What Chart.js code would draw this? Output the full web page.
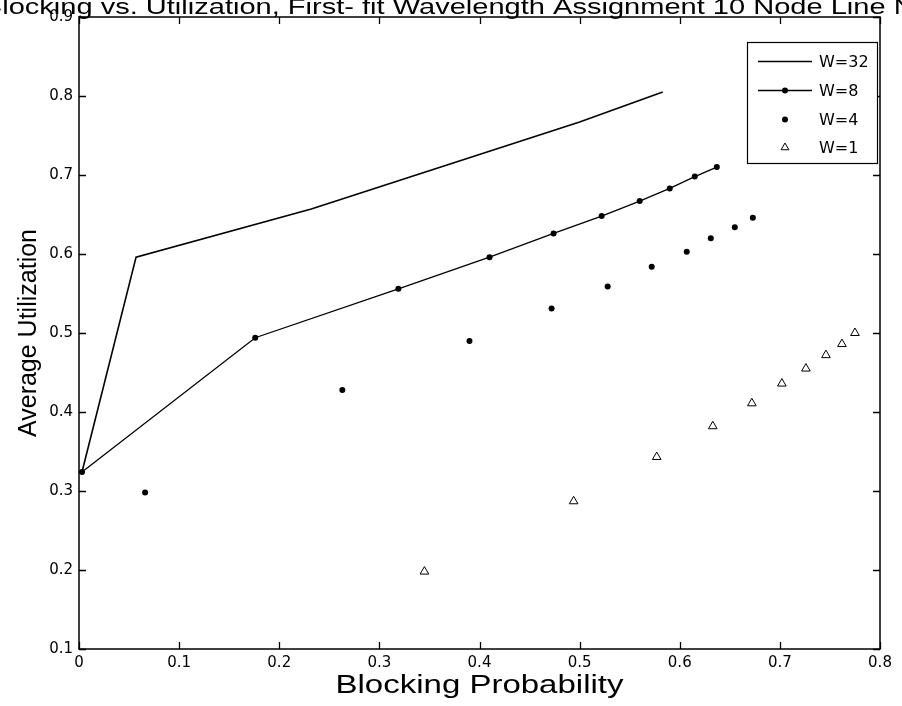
<!DOCTYPE html>
<html><head><meta charset="utf-8">
<script src="https://cdn.jsdelivr.net/npm/chart.js@4/dist/chart.umd.min.js"></script>
<style>html,body{margin:0;padding:0;background:#fff;overflow:hidden}</style>
</head><body>
<canvas id="c" width="902" height="706" style="width:902px;height:706px;display:block"></canvas>
<script>
// ---- data ----
const chartTitle = "Blocking vs. Utilization, First- fit Wavelength Assignment 10 Node Line Network";
const xAxisTitle = "Blocking Probability";
const yAxisTitle = "Average Utilization";
const xTickValues = [0, 0.1, 0.2, 0.3, 0.4, 0.5, 0.6, 0.7, 0.8];
const yTickValues = [0.1, 0.2, 0.3, 0.4, 0.5, 0.6, 0.7, 0.8, 0.9];
const seriesNames = ["W=32", "W=8", "W=4", "W=1"];

const w32Block = [0.003, 0.057, 0.232, 0.500, 0.583];
const w32Util  = [0.324, 0.596, 0.657, 0.767, 0.805];

const w8Block = [0.003, 0.176, 0.319, 0.410, 0.474, 0.522, 0.560, 0.590, 0.615, 0.637];
const w8Util  = [0.324, 0.494, 0.556, 0.596, 0.626, 0.648, 0.667, 0.683, 0.698, 0.710];

const w4Block = [0.066, 0.263, 0.390, 0.472, 0.528, 0.572, 0.607, 0.631, 0.655, 0.673];
const w4Util  = [0.298, 0.428, 0.490, 0.531, 0.559, 0.584, 0.603, 0.620, 0.634, 0.646];

const w1Block = [0.345, 0.494, 0.577, 0.633, 0.672, 0.702, 0.726, 0.746, 0.762, 0.775];
const w1Util  = [0.198, 0.287, 0.343, 0.382, 0.411, 0.436, 0.455, 0.472, 0.486, 0.500];

const pts = (xs, ys) => xs.map((x, i) => ({x: x, y: ys[i]}));
const fmt = v => String(+(+v).toFixed(1));

const datasets = [
  {label: seriesNames[0], data: pts(w32Block, w32Util), showLine: true, borderColor: '#000', borderWidth: 1.6,
   pointRadius: 0, pointHoverRadius: 0, fill: false},
  {label: seriesNames[1], data: pts(w8Block, w8Util), showLine: true, borderColor: '#000', borderWidth: 1.3,
   pointRadius: 3, pointStyle: 'circle', pointBackgroundColor: '#000', pointBorderColor: '#000', pointBorderWidth: 0, fill: false},
  {label: seriesNames[2], data: pts(w4Block, w4Util), showLine: false, borderColor: '#000',
   pointRadius: 3, pointStyle: 'circle', pointBackgroundColor: '#000', pointBorderColor: '#000', pointBorderWidth: 0},
  {label: seriesNames[3], data: pts(w1Block, w1Util), showLine: false, borderColor: '#000',
   pointRadius: 5, pointStyle: 'triangle', pointBackgroundColor: 'rgba(0,0,0,0)', pointBorderColor: '#000', pointBorderWidth: 1}
];

const TICK_FONT = {family: 'DejaVu Sans', size: 15};
const AXIS_FONT = {family: 'Liberation Sans', size: 25};
const H_STRETCH = 1.32; // the reference figure is stretched horizontally

const decorPlugin = {
  id: 'decor',
  afterDraw(chart) {
    const ctx = chart.ctx;
    const a = chart.chartArea;
    const xs = chart.scales.x, ys = chart.scales.y;
    ctx.save();
    // axes box
    ctx.strokeStyle = '#000';
    ctx.lineWidth = 1.5;
    ctx.strokeRect(a.left, a.top, a.right - a.left, a.bottom - a.top);
    // inward tick marks on all four sides
    const TL = 7;
    ctx.lineWidth = 1.3;
    ctx.beginPath();
    xs.ticks.forEach(t => {
      const px = Math.round(xs.getPixelForValue(t.value)) + 0.5;
      ctx.moveTo(px, a.bottom); ctx.lineTo(px, a.bottom - TL);
      ctx.moveTo(px, a.top); ctx.lineTo(px, a.top + TL);
    });
    ys.ticks.forEach(t => {
      const py = Math.round(ys.getPixelForValue(t.value)) + 0.5;
      ctx.moveTo(a.left, py); ctx.lineTo(a.left + TL, py);
      ctx.moveTo(a.right, py); ctx.lineTo(a.right - TL, py);
    });
    ctx.stroke();

    const cx = (a.left + a.right) / 2;
    ctx.fillStyle = '#000';

    // title: wider than the canvas, clipped at both edges like the reference
    ctx.font = '22px "Liberation Sans"';
    ctx.textBaseline = 'alphabetic';
    ctx.textAlign = 'center';
    ctx.save();
    ctx.translate(cx + 12, 14);
    ctx.scale(1.32, 1);
    ctx.fillText(chartTitle, 0, 0);
    ctx.restore();

    // x axis title (horizontally stretched like the reference)
    ctx.font = '25px "Liberation Sans"';
    ctx.save();
    ctx.translate(cx, 693);
    ctx.scale(H_STRETCH, 1);
    ctx.fillText(xAxisTitle, 0, 0);
    ctx.restore();

    // legend box
    const lx = 747, ly = 42, lw = 130, lh = 121;
    ctx.fillStyle = '#fff';
    ctx.fillRect(lx, ly, lw, lh);
    ctx.lineWidth = 1.2;
    ctx.strokeStyle = '#000';
    ctx.strokeRect(lx + 0.5, ly + 0.5, lw, lh);
    const rows = [61, 90, 119, 147];
    const x0 = 758, x1 = 812, mx = 785;
    ctx.font = '16px "DejaVu Sans"';
    ctx.textAlign = 'left';
    ctx.textBaseline = 'middle';
    chart.data.datasets.forEach((ds, i) => {
      const y = rows[i] + 0.5;
      ctx.strokeStyle = '#000';
      if (ds.showLine) {
        ctx.lineWidth = ds.borderWidth;
        ctx.beginPath(); ctx.moveTo(x0, y); ctx.lineTo(x1, y); ctx.stroke();
      }
      if (ds.pointRadius > 0) {
        if (ds.pointStyle === 'triangle') {
          ctx.fillStyle = 'rgba(0,0,0,0)';
          ctx.lineWidth = 1;
          Chart.helpers.drawPoint(ctx, {pointStyle: 'triangle', radius: 4.5, borderWidth: 1, rotation: 0}, mx, y);
        } else {
          ctx.fillStyle = '#000';
          ctx.beginPath(); ctx.arc(mx, y, 3, 0, Math.PI * 2); ctx.fill();
        }
      }
      ctx.fillStyle = '#000';
      ctx.fillText(ds.label, 819, y + 1);
    });
    ctx.restore();
  }
};

new Chart(document.getElementById('c'), {
  type: 'scatter',
  data: {datasets: datasets},
  options: {
    responsive: false,
    animation: false,
    devicePixelRatio: 1,
    layout: {padding: {top: 17, right: 22, left: 0, bottom: 0}},
    plugins: {legend: {display: false}, title: {display: false}, tooltip: {enabled: false}},
    scales: {
      x: {
        type: 'linear', min: 0, max: 0.8,
        afterBuildTicks: s => { s.ticks = xTickValues.map(v => ({value: v})); },
        afterFit: s => { s.height = 57; },
        grid: {display: false, drawTicks: false},
        border: {display: false},
        ticks: {color: '#000', font: TICK_FONT, padding: 5, maxRotation: 0, autoSkip: false, callback: v => fmt(v)},
        title: {display: false, text: xAxisTitle}
      },
      y: {
        type: 'linear', min: 0.1, max: 0.9,
        afterBuildTicks: s => { s.ticks = yTickValues.map(v => ({value: v})); },
        afterFit: s => { s.width = 79; },
        grid: {display: false, drawTicks: false},
        border: {display: false},
        ticks: {color: '#000', font: TICK_FONT, padding: 6, autoSkip: false, callback: v => fmt(v)},
        title: {display: true, text: yAxisTitle, color: '#000', font: AXIS_FONT, padding: {top: 14, bottom: 0}}
      }
    }
  },
  plugins: [decorPlugin]
});
</script>
</body></html>
